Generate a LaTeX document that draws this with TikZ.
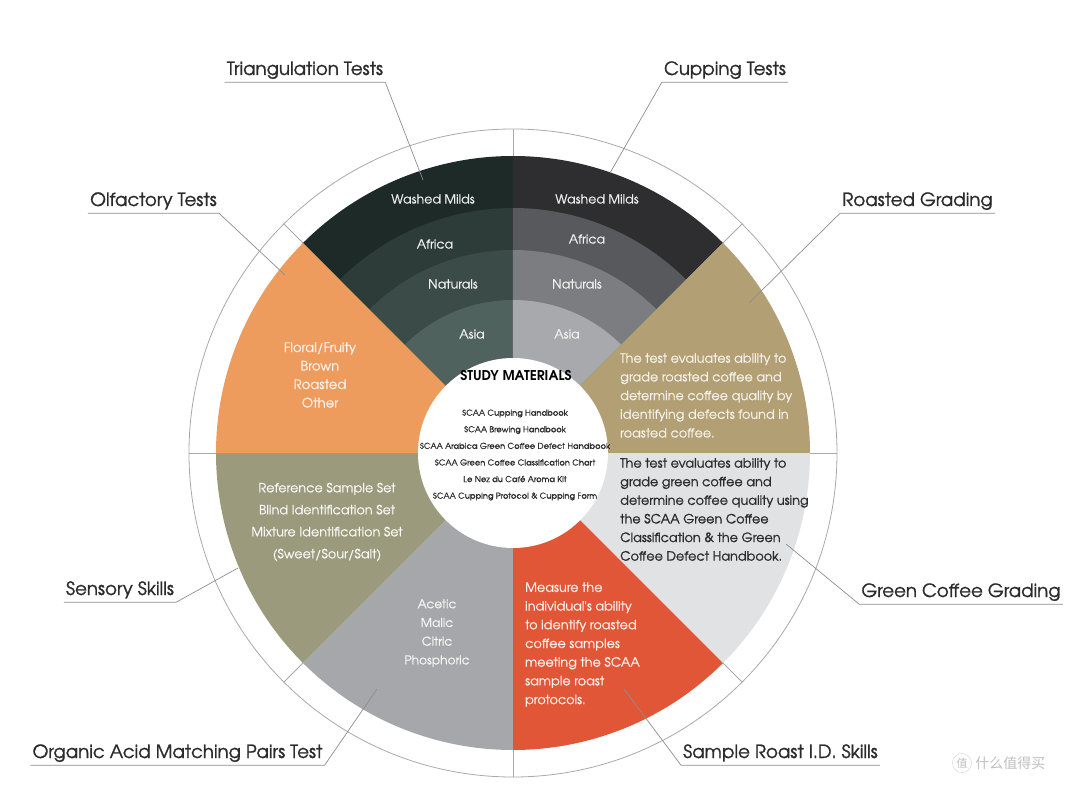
\documentclass[tikz,border=0pt]{standalone}
\usepackage{fontspec}
\setmainfont{texgyreadventor}[Extension=.otf, UprightFont=*-regular, BoldFont=*-bold, ItalicFont=*-italic, BoldItalicFont=*-bolditalic]
\newfontfamily\tagfont{texgyreadventor}[Extension=.otf, UprightFont=*-regular, FakeBold=1.2]
\newfontfamily\bodyfont{texgyreadventor}[Extension=.otf, UprightFont=*-regular, FakeBold=0.6]
\newfontfamily\cjkfont{Noto Sans CJK SC}
\usetikzlibrary{calc}

\definecolor{labeltxt}{HTML}{2B2B2B}
\definecolor{linegray}{HTML}{8E8E8E}
\definecolor{ringgray}{HTML}{A9A9A9}
% top left sector, green bands
\definecolor{grWashed}{HTML}{1E2A27}
\definecolor{grAfrica}{HTML}{2D3C38}
\definecolor{grNatural}{HTML}{3B4C48}
\definecolor{grAsia}{HTML}{50625E}
% top right sector, gray bands
\definecolor{gyWashed}{HTML}{2E2E31}
\definecolor{gyAfrica}{HTML}{58595C}
\definecolor{gyNatural}{HTML}{7C7D80}
\definecolor{gyAsia}{HTML}{A8A9AC}
% other sectors
\definecolor{tanFill}{HTML}{B39F74}
\definecolor{paleFill}{HTML}{E1E2E4}
\definecolor{redFill}{HTML}{E05637}
\definecolor{midFill}{HTML}{A5A7AA}
\definecolor{oliveFill}{HTML}{9B9A7C}
\definecolor{orangeFill}{HTML}{EE9B5E}

\begin{document}
\begin{tikzpicture}[x=1pt, y=1pt,
  tag/.style={font=\tagfont\fontsize{18.2}{18}\selectfont, text=labeltxt, text height=13pt, text depth=3pt, inner xsep=2pt, inner ysep=4pt},
  leader/.style={draw=linegray, line width=0.7pt},
  band/.style={font=\bodyfont\fontsize{12.6}{14}\selectfont, text=white!94!black},
  blurb/.style={font=\bodyfont\fontsize{12.8}{18.7}\selectfont, text=white, inner sep=0pt},
  study/.style={font=\bodyfont\fontsize{8.3}{16.6}\selectfont, text=labeltxt, inner sep=0pt, align=center}]
  \useasboundingbox[fill=white] (-513,-332) rectangle (567,453);
  % r=297 sectors, ring out to 324, hub 95
  % Green bands, 90 to 135
  \fill[grWashed]  (0,0) -- (90:297) arc[start angle=90, end angle=135, radius=297] -- cycle;
  \fill[grAfrica]  (0,0) -- (90:245) arc[start angle=90, end angle=135, radius=245] -- cycle;
  \fill[grNatural] (0,0) -- (90:203) arc[start angle=90, end angle=135, radius=203] -- cycle;
  \fill[grAsia]    (0,0) -- (90:153) arc[start angle=90, end angle=135, radius=153] -- cycle;
  % Gray bands, 45 to 90
  \fill[gyWashed]  (0,0) -- (45:297) arc[start angle=45, end angle=90, radius=297] -- cycle;
  \fill[gyAfrica]  (0,0) -- (45:245) arc[start angle=45, end angle=90, radius=245] -- cycle;
  \fill[gyNatural] (0,0) -- (45:203) arc[start angle=45, end angle=90, radius=203] -- cycle;
  \fill[gyAsia]    (0,0) -- (45:153) arc[start angle=45, end angle=90, radius=153] -- cycle;
  % Single colour sectors
  \fill[tanFill]    (0,0) -- (0:297)    arc[start angle=0,    end angle=45,   radius=297] -- cycle;
  \fill[paleFill]   (0,0) -- (-45:297)  arc[start angle=-45,  end angle=0,    radius=297] -- cycle;
  \fill[redFill]    (0,0) -- (-90:297)  arc[start angle=-90,  end angle=-45,  radius=297] -- cycle;
  \fill[midFill]    (0,0) -- (-135:297) arc[start angle=-135, end angle=-90,  radius=297] -- cycle;
  \fill[oliveFill]  (0,0) -- (180:297)  arc[start angle=180,  end angle=225,  radius=297] -- cycle;
  \fill[orangeFill] (0,0) -- (135:297)  arc[start angle=135,  end angle=180,  radius=297] -- cycle;
  % Outer ring and its dividers
  \draw[ringgray, line width=0.8pt] (0,0) circle (324);
  \foreach \a in {0,45,...,315}
    \draw[ringgray, line width=0.8pt] (\a:297) -- (\a:324);
  % Hub
  \fill[white] (0,0) circle (95);
  \node[font=\bfseries\fontsize{13.5}{13}\selectfont, text=black] (studyhead) at (3,77) {STUDY MATERIALS};
  \node[study] (studylist) at (2,-2) {SCAA Cupping Handbook\\SCAA Brewing Handbook\\SCAA Arabica Green Coffee Defect Handbook\\SCAA Green Coffee Classification Chart\\Le Nez du Caf\'e Aroma Kit\\SCAA Cupping Protocol \& Cupping Form};
  % Band names
  \node[band] (grWm) at (-80,254) {Washed Milds};
  \node[band] (grAf) at (-78,209) {Africa};
  \node[band] (grNa) at (-60,169) {Naturals};
  \node[band] (grAs) at (-41,119) {Asia};
  \node[band] (gyWm) at (84,254)  {Washed Milds};
  \node[band] (gyAf) at (74,214)  {Africa};
  \node[band] (gyNa) at (64,169)  {Naturals};
  \node[band] (gyAs) at (54,119)  {Asia};
  % Sector texts
  \node[blurb, align=left, anchor=west, text=white!85!tanFill] (roastTxt) at (107,57.5)
    {The test evaluates ability to\\grade roasted coffee and\\determine coffee quality by\\identifying defects found in\\roasted coffee.};
  \node[blurb, align=left, anchor=west, text=labeltxt, font=\tagfont\fontsize{12.8}{18.6}\selectfont] (greenTxt) at (107,-56.5)
    {The test evaluates ability to\\grade green coffee and\\determine coffee quality using\\the SCAA Green Coffee\\Classification \& the Green\\Coffee Defect Handbook.};
  \node[blurb, align=left, anchor=west, text=white!92!redFill] (sampTxt) at (12,-191.5)
    {Measure the\\individual's ability\\to identify roasted\\coffee samples\\meeting the SCAA\\sample roast\\protocols.};
  \node[blurb, align=center, text=white!88!midFill, font=\bodyfont\fontsize{12.2}{18.7}\selectfont] (acidTxt) at (-76,-180) {Acetic\\Malic\\Citric\\Phosphoric};
  \node[blurb, align=center, text=white!92!oliveFill, font=\bodyfont\fontsize{12.8}{22}\selectfont] (sensTxt) at (-186,-69)
    {Reference Sample Set\\Blind Identification Set\\Mixture Identification Set\\(Sweet/Sour/Salt)};
  \node[blurb, align=center, text=white!88!orangeFill, font=\bodyfont\fontsize{13.2}{18.5}\selectfont] (olfTxt) at (-193,78)
    {Floral/Fruity\\Brown\\Roasted\\Other};
  % Outer labels
  \node[tag] (tri)   at (-208,383)   {Triangulation Tests};
  \node[tag] (cup)   at (212,383)    {Cupping Tests};
  \node[tag] (roast) at (404.5,252)  {Roasted Grading};
  \node[tag] (olf)   at (-359.5,252) {Olfactory Tests};
  \node[tag] (sens)  at (-393,-137)  {Sensory Skills};
  \node[tag] (org)   at (-335.5,-300){Organic Acid Matching Pairs Test};
  \node[tag] (samp)  at (267.5,-300) {Sample Roast I.D. Skills};
  \node[tag] (green) at (448,-139)   {Green Coffee Grading};
  % Leader ends inside the sectors
  \coordinate (triEnd)   at (-90,273);
  \coordinate (cupEnd)   at (97,280);
  \coordinate (roastEnd) at (236,150);
  \coordinate (olfEnd)   at (-228,178);
  \coordinate (sensEnd)  at (-275,-115);
  \coordinate (orgEnd)   at (-136,-236);
  \coordinate (sampEnd)  at (111,-236);
  \coordinate (greenEnd) at (273,-91);
  % Underlines and leaders
  \draw[leader] (tri.south west) -- (tri.south east) -- (triEnd);
  \draw[leader] (cup.south east) -- (cup.south west) -- (cupEnd);
  \draw[leader] (roast.south east) -- (roast.south west) -- (roastEnd);
  \draw[leader] (olf.south west) -- (olf.south east) -- (olfEnd);
  \draw[leader] (sens.south west) -- (sens.south east) -- (sensEnd);
  \draw[leader] (org.south west) -- (org.south east) -- (orgEnd);
  \draw[leader] (samp.south east) -- (samp.south west) -- (sampEnd);
  \draw[leader] (green.south east) -- (green.south west) -- (greenEnd);
  % Watermark
  \node[draw=black!18, circle, inner sep=1.5pt, text=black!25, font=\cjkfont\fontsize{11}{11}\selectfont] (wmIcon) at (449,-310) {值};
  \node[anchor=west, text=black!25, font=\cjkfont\fontsize{14}{14}\selectfont] (wmText) at (wmIcon.east) {什么值得买};
\end{tikzpicture}
\end{document}
